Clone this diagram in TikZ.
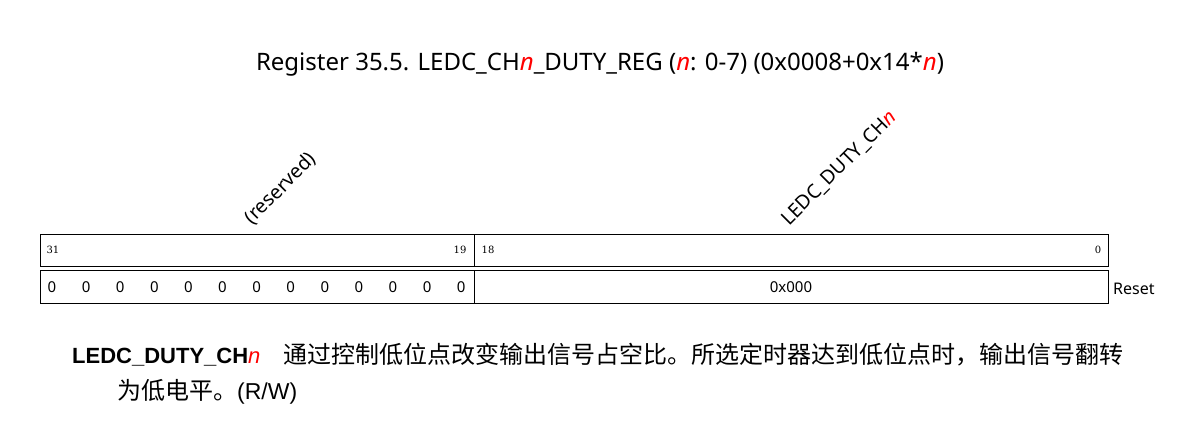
\documentclass[tikz,border=0pt]{standalone}
\usepackage{fontspec}
\setmainfont{Noto Sans}
\newfontfamily\cjk{Noto Sans CJK SC}
\newfontfamily\descfont{Liberation Sans}
\newfontfamily\bitfont{DejaVu Serif}
\newcommand{\regn}{\textcolor{red}{\textit{n}}}
\newcommand{\descn}{\textcolor{red}{\mdseries\itshape n}}
\tikzset{
	field/.style={draw, line width=0.8pt},
	bitnum/.style={font=\bitfont\fontsize{10}{11}\selectfont, inner sep=0pt},
	resetval/.style={font=\fontsize{15}{17}\selectfont, inner sep=0pt},
	fieldname/.style={font=\fontsize{19.5}{22}\selectfont, rotate=45, anchor=west, inner sep=0pt},
	desc/.style={anchor=base west, inner sep=0pt},
}
\begin{document}
\begin{tikzpicture}[x=1pt, y=-1pt]
	\useasboundingbox (0,0) rectangle (1181,425);
	% title
	\node[font=\fontsize{24}{28}\selectfont] (title) at (600,64) {Register 35.5. LEDC\_CH\regn\_DUTY\_REG (\regn: 0-7) (0x0008+0x14*\regn)};
	% field names
	\node[fieldname] (resname) at (248,221) {(reserved)};
	\node[fieldname] (dutyname) at (785,223) {LEDC\_DUTY\_CH\regn};
	% bit row
	\draw[field] (40,234) rectangle (1108,266) (474,234) -- (474,266);
	\node[bitnum] (b31) at (53,250) {31};
	\node[bitnum] (b19) at (460,250) {19};
	\node[bitnum] (b18) at (488,250) {18};
	\node[bitnum] (b0) at (1098,250) {0};
	% reset row
	\draw[field] (40,270) rectangle (1108,303) (474,270) -- (474,303);
	\foreach \i in {0,...,12}
		\node[resetval] (z\i) at (52+34.1*\i,287) {0};
	\node[resetval] (dutyreset) at (791,287) {0x000};
	\node[font=\fontsize{16}{18}\selectfont, anchor=west, inner sep=0pt] (reset) at (1113,289) {Reset};
	% description
	\node[desc, font=\descfont\fontsize{22}{26}\selectfont\bfseries] (descname) at (72,363) {LEDC\_DUTY\_CH\descn};
	\node[desc, font=\cjk\fontsize{24}{28}\selectfont] (descline1) at (283,363) {通过控制低位点改变输出信号占空比。所选定时器达到低位点时，输出信号翻转};
	\node[desc, font=\descfont\fontsize{23}{27}\selectfont] (descline2) at (117,399) {{\cjk\fontsize{24}{28}\selectfont 为低电平。}(R/W)};
\end{tikzpicture}
\end{document}
